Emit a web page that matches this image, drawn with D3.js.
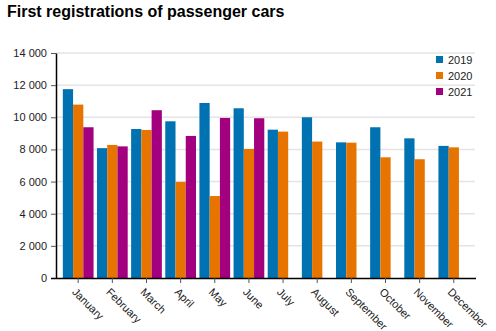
<!DOCTYPE html>
<html lang="en">

<head>
    <meta charset="UTF-8">
    <title>First registrations of passenger cars</title>
    <style>
        body { margin: 0; background: #fff; }
        svg { font-family: "Liberation Sans", Arial, sans-serif; }
    </style>
</head>

<body>
    <svg width="496" height="331"></svg>
    <script src="https://d3js.org/d3.v7.min.js"></script>
    <script>

        let months = ["January", "February", "March", "April", "May", "June",
            "July", "August", "September", "October", "November", "December"];
        let years = ["2019", "2020", "2021"];
        let v2019 = [11750, 8080, 9270, 9750, 10890, 10560, 9230, 10000, 8440, 9380, 8690, 8220];
        let v2020 = [10790, 8280, 9210, 5980, 5100, 8030, 9110, 8490, 8420, 7510, 7390, 8130];
        let v2021 = [9380, 8190, 10440, 8840, 9960, 9940];
        let yTicks = [0, 2000, 4000, 6000, 8000, 10000, 12000, 14000];
        let colors = ["#0072b2", "#e87400", "#a3007f"];

        let series = [v2019, v2020, v2021];
        let data = [];
        series.forEach((vals, i) => vals.forEach((v, j) => data.push({ year: years[i], month: months[j], value: v })));

        let svg = d3.select("svg"),
            margin = { top: 53, right: 20, bottom: 53, left: 56 },
            width = +svg.attr("width") - margin.left - margin.right,
            height = +svg.attr("height") - margin.top - margin.bottom,
            g = svg.append("g").attr("transform", "translate(" + margin.left + "," + margin.top + ")");

        svg.append("text")
            .attr("x", 7)
            .attr("y", 17)
            .attr("font-size", 16)
            .attr("font-weight", "bold")
            .attr("fill", "#000")
            .text("First registrations of passenger cars");

        let x = d3.scaleBand()
            .domain(months)
            .range([0, width])
            .paddingInner(0.1)
            .paddingOuter(0.2);
        let x1 = d3.scaleBand()
            .domain(years)
            .range([0, x.bandwidth()]);
        let y = d3.scaleLinear()
            .domain([0, 14000])
            .range([height, 0]);
        let fmt = d => d3.format(",")(d).replace(",", " ");

        // grid
        g.append("g")
            .selectAll("line")
            .data(yTicks.slice(1))
            .enter().append("line")
            .attr("x1", 0)
            .attr("x2", width - 1)
            .attr("y1", d => y(d))
            .attr("y2", d => y(d))
            .attr("stroke", "#e4e4e4")
            .attr("stroke-width", 1.5);

        g.append("g")
            .selectAll("rect")
            .data(data)
            .enter().append("rect")
            .attr("x", d => x(d.month) + x1(d.year))
            .attr("y", d => y(d.value))
            .attr("width", x1.bandwidth())
            .attr("height", d => height - y(d.value))
            .attr("fill", d => colors[years.indexOf(d.year)]);

        let yAxis = g.append("g")
            .call(d3.axisLeft(y).tickValues(yTicks).tickFormat(fmt).tickSize(5).tickPadding(4));
        yAxis.select(".domain").attr("d", "M0.5," + height + "V0.5").attr("stroke-width", 1.5);
        yAxis.selectAll(".tick line").attr("stroke", "#555");
        yAxis.selectAll("text").attr("font-size", 11).attr("fill", "#222");
        yAxis.attr("font-family", null);

        let xAxis = g.append("g")
            .attr("transform", "translate(0," + height + ")")
            .call(d3.axisBottom(x).tickSizeInner(5).tickSizeOuter(0));
        xAxis.select(".domain").attr("d", "M-5,0.5H" + width).attr("stroke-width", 1.5);
        xAxis.selectAll(".tick line").attr("stroke", "#555");
        xAxis.attr("font-family", null);
        xAxis.selectAll("text")
            .attr("font-size", 11)
            .attr("fill", "#222")
            .attr("text-anchor", "start")
            .attr("x", 0)
            .attr("y", 0)
            .attr("dy", "0.35em")
            .attr("transform", "translate(-4,12) rotate(45)");

        let legend = g.append("g")
            .attr("transform", "translate(" + (width - 40) + ",3)");
        let li = legend.selectAll("g")
            .data(years)
            .enter().append("g")
            .attr("transform", (d, i) => "translate(0," + i * 16 + ")");
        li.append("rect")
            .attr("width", 7)
            .attr("height", 7)
            .attr("fill", (d, i) => colors[i]);
        li.append("text")
            .attr("x", 12)
            .attr("y", 4)
            .attr("dy", "0.35em")
            .attr("font-size", 11)
            .attr("fill", "#222")
            .text(d => d);

    </script>

</body>

</html>
